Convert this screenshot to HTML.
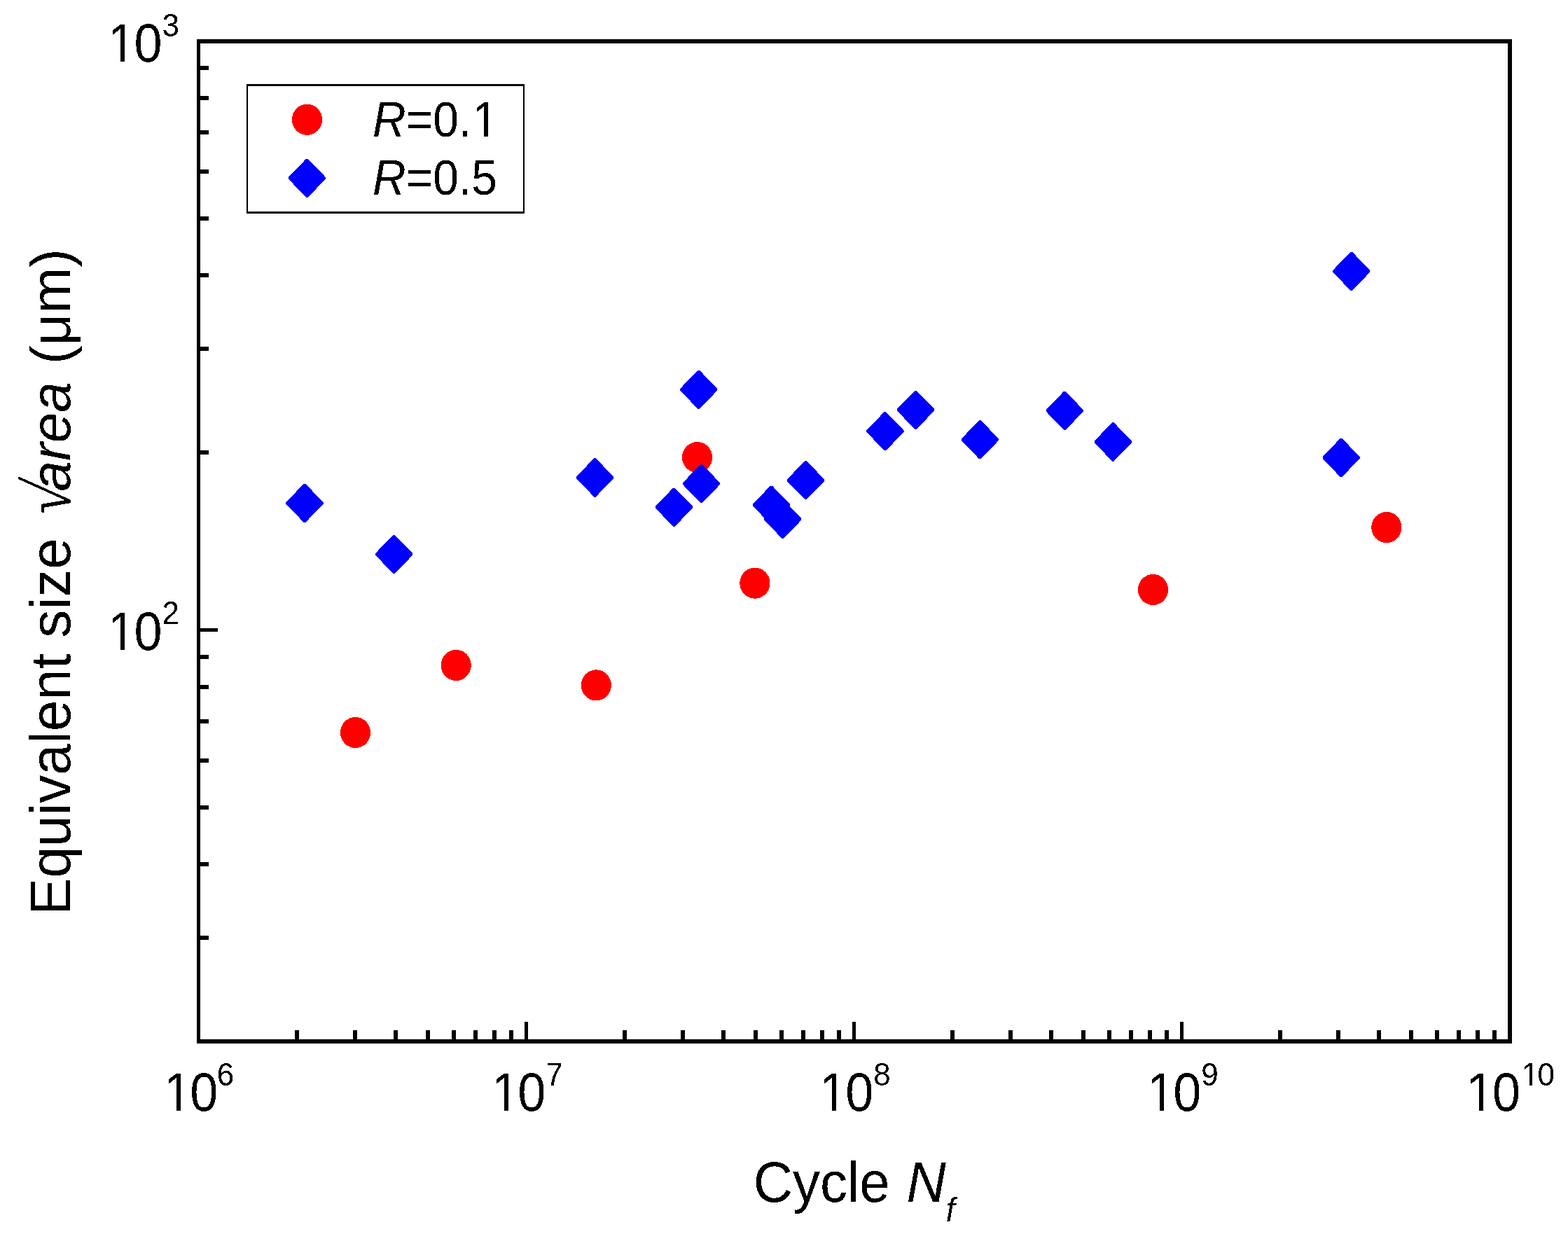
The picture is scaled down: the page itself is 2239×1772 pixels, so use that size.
<!DOCTYPE html><html><head><meta charset="utf-8"><style>html,body{margin:0;padding:0;background:#fff;overflow:hidden}svg{display:block}text{font-family:'Liberation Sans',Arial,sans-serif;fill:#000}.it{font-style:italic}.sq{font-family:'Liberation Serif',serif}</style></head><body>
<svg width="2239" height="1772" viewBox="0 0 2239 1772">
<rect x="0" y="0" width="2239" height="1772" fill="#fff"/>
<defs><filter id="bin" x="-5%" y="-5%" width="110%" height="110%" color-interpolation-filters="sRGB"><feComponentTransfer><feFuncA type="discrete" tableValues="0 1"/></feComponentTransfer></filter></defs>
<g filter="url(#bin)">
<g fill="#000" shape-rendering="crispEdges"><rect x="421" y="1471" width="6" height="16"/><rect x="504" y="1471" width="6" height="16"/><rect x="562" y="1471" width="6" height="16"/><rect x="608" y="1471" width="6" height="16"/><rect x="645" y="1471" width="6" height="16"/><rect x="676" y="1471" width="6" height="16"/><rect x="703" y="1471" width="6" height="16"/><rect x="727" y="1471" width="6" height="16"/><rect x="749" y="1459" width="5" height="28"/><rect x="889" y="1471" width="6" height="16"/><rect x="972" y="1471" width="6" height="16"/><rect x="1030" y="1471" width="6" height="16"/><rect x="1076" y="1471" width="6" height="16"/><rect x="1113" y="1471" width="6" height="16"/><rect x="1144" y="1471" width="6" height="16"/><rect x="1171" y="1471" width="6" height="16"/><rect x="1195" y="1471" width="6" height="16"/><rect x="1217" y="1459" width="5" height="28"/><rect x="1357" y="1471" width="6" height="16"/><rect x="1440" y="1471" width="6" height="16"/><rect x="1498" y="1471" width="6" height="16"/><rect x="1544" y="1471" width="6" height="16"/><rect x="1581" y="1471" width="6" height="16"/><rect x="1612" y="1471" width="6" height="16"/><rect x="1639" y="1471" width="6" height="16"/><rect x="1663" y="1471" width="6" height="16"/><rect x="1685" y="1459" width="5" height="28"/><rect x="1825" y="1471" width="6" height="16"/><rect x="1908" y="1471" width="6" height="16"/><rect x="1966" y="1471" width="6" height="16"/><rect x="2012" y="1471" width="6" height="16"/><rect x="2049" y="1471" width="6" height="16"/><rect x="2080" y="1471" width="6" height="16"/><rect x="2107" y="1471" width="6" height="16"/><rect x="2131" y="1471" width="6" height="16"/><rect x="283" y="1484" width="15" height="6"/><rect x="283" y="643" width="15" height="6"/><rect x="283" y="1336" width="15" height="6"/><rect x="283" y="495" width="15" height="6"/><rect x="283" y="1231" width="15" height="6"/><rect x="283" y="390" width="15" height="6"/><rect x="283" y="1150" width="15" height="6"/><rect x="283" y="309" width="15" height="6"/><rect x="283" y="1083" width="15" height="6"/><rect x="283" y="242" width="15" height="6"/><rect x="283" y="1027" width="15" height="6"/><rect x="283" y="186" width="15" height="6"/><rect x="283" y="978" width="15" height="6"/><rect x="283" y="137" width="15" height="6"/><rect x="283" y="935" width="15" height="6"/><rect x="283" y="94" width="15" height="6"/><rect x="283" y="897" width="28" height="5"/>
<rect x="281" y="56" width="5" height="1434"/>
<rect x="2153" y="56" width="6" height="1434"/>
<rect x="281" y="56" width="1878" height="6"/>
<rect x="281" y="1484" width="1878" height="6"/>
<rect x="352" y="120" width="2" height="185"/>
<rect x="747" y="120" width="2" height="185"/>
<rect x="352" y="120" width="397" height="3"/>
<rect x="352" y="302" width="397" height="3"/>
</g>
<text x="281.45" y="1586" text-anchor="middle" font-size="72" transform="translate(0,1586) scale(1,1.07) translate(0,-1586)"><tspan dx="2.6">1</tspan><tspan dx="-2.6">0</tspan><tspan font-size="44" dy="-34" dx="-1.5">6</tspan></text>
<text x="750.20" y="1586" text-anchor="middle" font-size="72" transform="translate(0,1586) scale(1,1.07) translate(0,-1586)"><tspan dx="2.6">1</tspan><tspan dx="-2.6">0</tspan><tspan font-size="44" dy="-34">7</tspan></text>
<text x="1218.20" y="1586" text-anchor="middle" font-size="72" transform="translate(0,1586) scale(1,1.07) translate(0,-1586)"><tspan dx="2.6">1</tspan><tspan dx="-2.6">0</tspan><tspan font-size="44" dy="-34">8</tspan></text>
<text x="1686.20" y="1586" text-anchor="middle" font-size="72" transform="translate(0,1586) scale(1,1.07) translate(0,-1586)"><tspan dx="2.6">1</tspan><tspan dx="-2.6">0</tspan><tspan font-size="44" dy="-34">9</tspan></text>
<text x="2154.20" y="1586" text-anchor="middle" font-size="72" transform="translate(0,1586) scale(1,1.07) translate(0,-1586)"><tspan dx="2.6">1</tspan><tspan dx="-2.6">0</tspan><tspan font-size="44" dy="-34" dx="1.7">1</tspan><tspan font-size="44" dx="-1.7">0</tspan></text>
<text x="253.50" y="88.2" text-anchor="end" font-size="72" transform="translate(0,88.2) scale(1,1.07) translate(0,-88.2)"><tspan dx="2.5">1</tspan><tspan dx="-2.5">0</tspan><tspan font-size="44" dy="-34">3</tspan></text>
<text x="253.50" y="927.8" text-anchor="end" font-size="72" transform="translate(0,927.8) scale(1,1.07) translate(0,-927.8)"><tspan dx="2.5">1</tspan><tspan dx="-2.5">0</tspan><tspan font-size="44" dy="-34">2</tspan></text>
<text x="1075.7" y="1716" font-size="78" transform="translate(0,1716) scale(1,1.05) translate(0,-1716)">Cycle <tspan class="it" x="1294.5">N</tspan><tspan class="it" font-size="46" dy="27">f</tspan></text>
<text x="0" y="0" font-size="81" transform="translate(100,1307) rotate(-90) scale(0.989,1.0)">Equivalent size</text>
<text x="0" y="0" class="sq" font-size="93.4" transform="translate(100,740.3) rotate(-90) scale(0.942,1) skewX(-9.7)">√</text>
<text x="0" y="0" class="it" font-size="81" transform="translate(100,701.5) rotate(-90) scale(0.963,0.98)">area</text>
<text x="0" y="0" font-size="81" transform="translate(100,520) rotate(-90) scale(0.98,0.99)">(μm)</text>
<text x="532" y="195" font-size="66" transform="translate(0,195) scale(1,1.075) translate(0,-195)"><tspan class="it">R</tspan>=0.<tspan dx="1.4">1</tspan></text>
<text x="532" y="278" font-size="66" transform="translate(0,278) scale(1,1.075) translate(0,-278)"><tspan class="it">R</tspan>=0.5</text>
<g fill="#fff" shape-rendering="crispEdges"><rect x="237.90" y="1579.54" width="14.03" height="7.36"/><rect x="258.29" y="1579.54" width="13.47" height="7.36"/><rect x="705.90" y="1579.54" width="14.03" height="7.36"/><rect x="726.29" y="1579.54" width="13.47" height="7.36"/><rect x="1173.90" y="1579.54" width="14.03" height="7.36"/><rect x="1194.29" y="1579.54" width="13.47" height="7.36"/><rect x="1641.90" y="1579.54" width="14.03" height="7.36"/><rect x="1662.29" y="1579.54" width="13.47" height="7.36"/><rect x="2097.66" y="1579.54" width="14.03" height="7.36"/><rect x="2118.06" y="1579.54" width="13.47" height="7.36"/><rect x="2174.79" y="1545.40" width="9.04" height="5.12"/><rect x="2187.73" y="1545.40" width="8.70" height="5.12"/><rect x="158.02" y="81.74" width="14.03" height="7.36"/><rect x="178.41" y="81.74" width="13.47" height="7.36"/><rect x="158.02" y="921.34" width="14.03" height="7.36"/><rect x="178.41" y="921.34" width="13.47" height="7.36"/><rect x="678.28" y="189.00" width="12.96" height="6.90"/><rect x="697.08" y="189.00" width="12.45" height="6.90"/></g>
<g fill="#f00" shape-rendering="crispEdges"><ellipse cx="507.5" cy="1046" rx="21.6" ry="22.1"/><ellipse cx="651.2" cy="949.9" rx="21.6" ry="22.1"/><ellipse cx="851.3" cy="978.4" rx="21.6" ry="22.1"/><ellipse cx="995.6" cy="653" rx="21.6" ry="22.1"/><ellipse cx="1077.9" cy="832.6" rx="21.6" ry="22.1"/><ellipse cx="1646.5" cy="842" rx="21.6" ry="22.1"/><ellipse cx="1979.8" cy="753" rx="21.6" ry="22.1"/></g>
<g fill="#00f" shape-rendering="crispEdges"><polygon points="433.8,690.8 436.2,690.8 461.6,717.2 461.6,719.6 436.2,746.0 433.8,746.0 408.4,719.6 408.4,717.2"/><polygon points="561.4,763.8 563.8,763.8 589.2,790.2 589.2,792.6 563.8,819.0 561.4,819.0 536.0,792.6 536.0,790.2"/><polygon points="848.3,654.3 850.7,654.3 876.1,680.7 876.1,683.1 850.7,709.5 848.3,709.5 822.9,683.1 822.9,680.7"/><polygon points="961.2,696.6 963.6,696.6 989.0,723.0 989.0,725.4 963.6,751.8 961.2,751.8 935.8,725.4 935.8,723.0"/><polygon points="996.5,528.7 998.9,528.7 1024.3,555.1 1024.3,557.5 998.9,583.9 996.5,583.9 971.1,557.5 971.1,555.1"/><polygon points="1000.3,663.0 1002.7,663.0 1028.1,689.4 1028.1,691.8 1002.7,718.2 1000.3,718.2 974.9,691.8 974.9,689.4"/><polygon points="1100.2,693.5 1102.6,693.5 1128.0,719.9 1128.0,722.3 1102.6,748.7 1100.2,748.7 1074.8,722.3 1074.8,719.9"/><polygon points="1116.6,713.7 1119.0,713.7 1144.4,740.1 1144.4,742.5 1119.0,768.9 1116.6,768.9 1091.2,742.5 1091.2,740.1"/><polygon points="1149.3,658.1 1151.7,658.1 1177.1,684.5 1177.1,686.9 1151.7,713.3 1149.3,713.3 1123.9,686.9 1123.9,684.5"/><polygon points="1262.7,588.1 1265.1,588.1 1290.5,614.5 1290.5,616.9 1265.1,643.3 1262.7,643.3 1237.3,616.9 1237.3,614.5"/><polygon points="1306.3,557.7 1308.7,557.7 1334.1,584.1 1334.1,586.5 1308.7,612.9 1306.3,612.9 1280.9,586.5 1280.9,584.1"/><polygon points="1398.2,600.1 1400.6,600.1 1426.0,626.5 1426.0,628.9 1400.6,655.3 1398.2,655.3 1372.8,628.9 1372.8,626.5"/><polygon points="1519.1,558.8 1521.5,558.8 1546.9,585.2 1546.9,587.6 1521.5,614.0 1519.1,614.0 1493.7,587.6 1493.7,585.2"/><polygon points="1588.1,603.3 1590.5,603.3 1615.9,629.7 1615.9,632.1 1590.5,658.5 1588.1,658.5 1562.7,632.1 1562.7,629.7"/><polygon points="1913.9,625.9 1916.3,625.9 1941.7,652.3 1941.7,654.7 1916.3,681.1 1913.9,681.1 1888.5,654.7 1888.5,652.3"/><polygon points="1928.5,359.7 1930.9,359.7 1956.3,386.1 1956.3,388.5 1930.9,414.9 1928.5,414.9 1903.1,388.5 1903.1,386.1"/></g>
<g fill="#f00" shape-rendering="crispEdges"><ellipse cx="438.5" cy="170.8" rx="21.6" ry="22.1"/></g>
<g fill="#00f" shape-rendering="crispEdges"><polygon points="437.2,226.7 439.6,226.7 465.0,253.1 465.0,255.5 439.6,281.9 437.2,281.9 411.8,255.5 411.8,253.1"/></g>
</g>
</svg></body></html>
